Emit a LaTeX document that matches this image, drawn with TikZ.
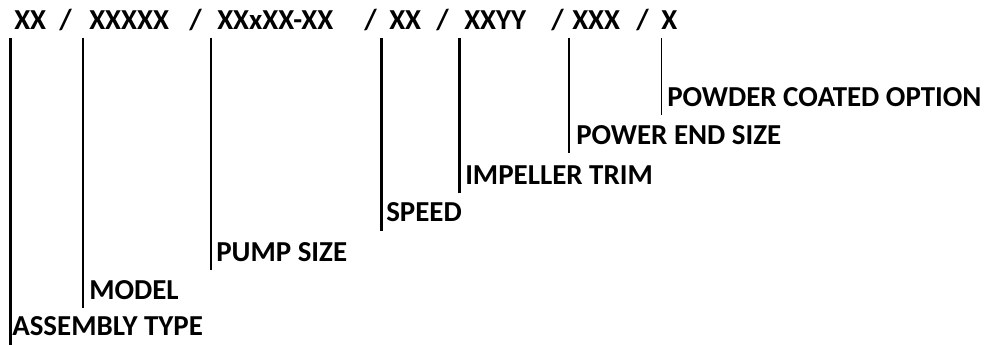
\documentclass[tikz,border=0pt]{standalone}
\usepackage{fontspec}
\setmainfont{Carlito}
\begin{document}
\begin{tikzpicture}[x=0.75pt,y=-0.75pt,
  lbl/.style={anchor=base west,inner sep=0pt,font=\bfseries\fontsize{21.7}{26}\selectfont},
  code/.style={anchor=base west,inner sep=0pt,font=\bfseries\fontsize{21.7}{26}\selectfont},
  tick/.style={line width=1.7pt},
  thintick/.style={line width=1.2pt}]
\useasboundingbox (0,0) rectangle (993,345);
% top code string
\node[code] (c1)  at (14,30)  {XX};
\node[code] (s1)  at (59,30)  {/};
\node[code] (c2)  at (89,30)  {XXXXX};
\node[code] (s2)  at (189,30) {/};
\node[code] (c3)  at (217,30) {XXxXX-XX};
\node[code] (s3)  at (364,30) {/};
\node[code] (c4)  at (389,30) {XX};
\node[code] (s4)  at (436,30) {/};
\node[code] (c5)  at (464,30) {XXYY};
\node[code] (s5)  at (551,30) {/};
\node[code] (c6)  at (572,30) {XXX};
\node[code] (s6)  at (636,30) {/};
\node[code] (c7)  at (661,30) {X};
% labels
\node[lbl] (l1) at (12,336)  {ASSEMBLY TYPE};
\node[lbl] (l2) at (89,300)  {MODEL};
\node[lbl] (l3) at (216,262) {PUMP SIZE};
\node[lbl] (l4) at (386,222) {SPEED};
\node[lbl] (l5) at (465,185) {IMPELLER TRIM};
\node[lbl] (l6) at (576,145) {POWER END SIZE};
\node[lbl] (l7) at (667,107) {POWDER COATED OPTION};
% tick coordinates
\coordinate (t1) at (10.5,38);  \coordinate (b1) at (10.5,345);
\coordinate (t2) at (83,38);    \coordinate (b2) at (83,308);
\coordinate (t3) at (211,38);   \coordinate (b3) at (211,270);
\coordinate (t4) at (381.5,38); \coordinate (b4) at (381.5,231);
\coordinate (t5) at (459.5,38); \coordinate (b5) at (459.5,193);
\coordinate (t6) at (569,38);   \coordinate (b6) at (569,153);
\coordinate (t7) at (661.5,38); \coordinate (b7) at (661.5,115);
\draw[tick] (t1) -- (b1);
\draw[tick] (t2) -- (b2);
\draw[tick] (t3) -- (b3);
\draw[tick] (t4) -- (b4);
\draw[tick] (t5) -- (b5);
\draw[tick] (t6) -- (b6);
\draw[thintick] (t7) -- (b7);
\end{tikzpicture}
\end{document}
